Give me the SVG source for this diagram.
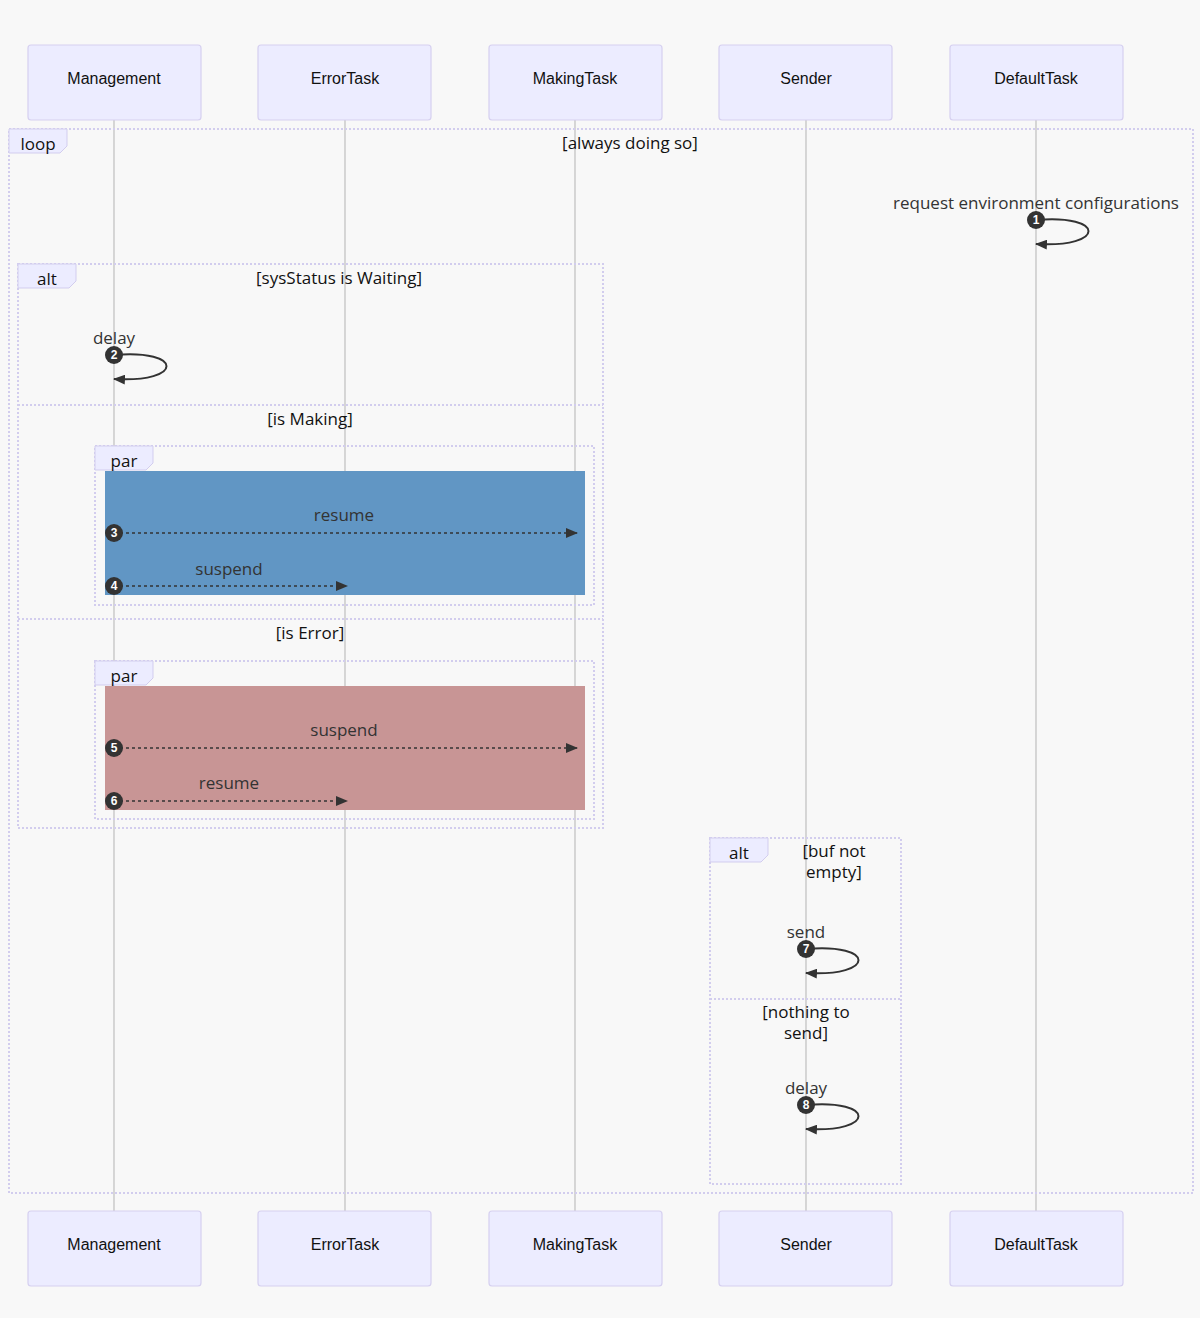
<svg xmlns="http://www.w3.org/2000/svg" width="1200" height="1318" viewBox="0 0 1200 1318">
<style>
.actor{fill:#ECECFF;stroke:#d6d0f0;stroke-width:1.2}
.atext{font-family:"Liberation Sans",Arial,sans-serif;font-size:16px;fill:#111;text-anchor:middle;dominant-baseline:central}
.life{stroke:#b3b3b3;stroke-width:1}
.frame{fill:none;stroke:#d2cdee;stroke-width:2;stroke-dasharray:2,2}
.lbox{fill:#ECECFF;stroke:#d2cdee;stroke-width:1}
.ltext{font-family:"Open Sans","DejaVu Sans",sans-serif;font-size:17px;fill:#111;text-anchor:middle;dominant-baseline:central}
.mtext{font-family:"Open Sans","DejaVu Sans",sans-serif;font-size:17px;fill:#333;text-anchor:middle;dominant-baseline:central}
.msg{fill:none;stroke:#333;stroke-width:1.6;stroke-dasharray:3,3}
.self{fill:none;stroke:#333;stroke-width:2}
.num{fill:#333}
.ntext{font-family:"Liberation Sans",Arial,sans-serif;font-size:12px;font-weight:bold;fill:#fff;text-anchor:middle;dominant-baseline:central}
</style>
<defs>
<marker id="arr" viewBox="0 0 12 10" refX="11" refY="5" markerWidth="12" markerHeight="10" markerUnits="userSpaceOnUse" orient="auto">
<path d="M0,0 L12,5 L0,10 z" fill="#333"/>
</marker>
</defs>
<rect x="0" y="0" width="1200" height="1318" fill="#f8f8f8"/>

<g id="lifelines">
<line class="life" x1="114" y1="120" x2="114" y2="1211"/>
<line class="life" x1="345" y1="120" x2="345" y2="1211"/>
<line class="life" x1="575" y1="120" x2="575" y2="1211"/>
<line class="life" x1="806" y1="120" x2="806" y2="1211"/>
<line class="life" x1="1036" y1="120" x2="1036" y2="1211"/>
</g>

<g id="actors-top">
<g id="actor-Management-top"><rect class="actor" x="28" y="45" width="173" height="75" rx="3"/><text class="atext" x="114" y="78">Management</text></g>
<g id="actor-ErrorTask-top"><rect class="actor" x="258" y="45" width="173" height="75" rx="3"/><text class="atext" x="345" y="78">ErrorTask</text></g>
<g id="actor-MakingTask-top"><rect class="actor" x="489" y="45" width="173" height="75" rx="3"/><text class="atext" x="575" y="78">MakingTask</text></g>
<g id="actor-Sender-top"><rect class="actor" x="719" y="45" width="173" height="75" rx="3"/><text class="atext" x="806" y="78">Sender</text></g>
<g id="actor-DefaultTask-top"><rect class="actor" x="950" y="45" width="173" height="75" rx="3"/><text class="atext" x="1036" y="78">DefaultTask</text></g>
</g>

<g id="actors-bottom">
<g id="actor-Management-bottom"><rect class="actor" x="28" y="1211" width="173" height="75" rx="3"/><text class="atext" x="114" y="1244">Management</text></g>
<g id="actor-ErrorTask-bottom"><rect class="actor" x="258" y="1211" width="173" height="75" rx="3"/><text class="atext" x="345" y="1244">ErrorTask</text></g>
<g id="actor-MakingTask-bottom"><rect class="actor" x="489" y="1211" width="173" height="75" rx="3"/><text class="atext" x="575" y="1244">MakingTask</text></g>
<g id="actor-Sender-bottom"><rect class="actor" x="719" y="1211" width="173" height="75" rx="3"/><text class="atext" x="806" y="1244">Sender</text></g>
<g id="actor-DefaultTask-bottom"><rect class="actor" x="950" y="1211" width="173" height="75" rx="3"/><text class="atext" x="1036" y="1244">DefaultTask</text></g>
</g>

<g id="rects">
<rect x="105" y="471" width="480" height="124" fill="#6196c4"/>
<rect x="105" y="686" width="480" height="124" fill="#c89595"/>
</g>

<g id="frames">
<g id="loop1">
<rect class="frame" x="9" y="129" width="1184" height="1064"/>
<polygon class="lbox" points="9,129 67,129 67,146 60,153 9,153"/>
<text class="ltext" x="38" y="143">loop</text>
<text class="ltext" x="630" y="142">[always doing so]</text>
</g>
<g id="alt1">
<rect class="frame" x="18" y="264" width="585" height="564"/>
<polygon class="lbox" points="18,264 76,264 76,281 69,288 18,288"/>
<text class="ltext" x="47" y="278">alt</text>
<text class="ltext" x="339" y="277">[sysStatus is Waiting]</text>
<line class="frame" x1="18" y1="405" x2="603" y2="405"/>
<text class="ltext" x="310" y="418">[is Making]</text>
<line class="frame" x1="18" y1="619" x2="603" y2="619"/>
<text class="ltext" x="310" y="632">[is Error]</text>
</g>
<g id="par1">
<rect class="frame" x="95" y="446" width="499" height="159"/>
<polygon class="lbox" points="95,446 153,446 153,463 146,470 95,470"/>
<text class="ltext" x="124" y="460">par</text>
</g>
<g id="par2">
<rect class="frame" x="95" y="661" width="499" height="158"/>
<polygon class="lbox" points="95,661 153,661 153,678 146,685 95,685"/>
<text class="ltext" x="124" y="675">par</text>
</g>
<g id="alt2">
<rect class="frame" x="710" y="838" width="191" height="346"/>
<polygon class="lbox" points="710,838 768,838 768,855 761,862 710,862"/>
<text class="ltext" x="739" y="852">alt</text>
<text class="ltext" x="834" y="850">[buf not</text>
<text class="ltext" x="834" y="871">empty]</text>
<line class="frame" x1="710" y1="999" x2="901" y2="999"/>
<text class="ltext" x="806" y="1011">[nothing to</text>
<text class="ltext" x="806" y="1032">send]</text>
</g>
</g>

<g id="connectors">
<text class="mtext" x="1036" y="202">request environment configurations</text>
<path class="self" d="M1036,220 C1106,214 1106,248 1036,244" marker-end="url(#arr)"/>
<text class="mtext" x="114" y="337">delay</text>
<path class="self" d="M114,355 C184,349 184,383 114,379" marker-end="url(#arr)"/>
<text class="mtext" x="344" y="514">resume</text>
<line class="msg" x1="114" y1="533" x2="577" y2="533" marker-end="url(#arr)"/>
<text class="mtext" x="229" y="568">suspend</text>
<line class="msg" x1="114" y1="586" x2="347" y2="586" marker-end="url(#arr)"/>
<text class="mtext" x="344" y="729">suspend</text>
<line class="msg" x1="114" y1="748" x2="577" y2="748" marker-end="url(#arr)"/>
<text class="mtext" x="229" y="782">resume</text>
<line class="msg" x1="114" y1="801" x2="347" y2="801" marker-end="url(#arr)"/>
<text class="mtext" x="806" y="931">send</text>
<path class="self" d="M806,949 C876,943 876,977 806,973" marker-end="url(#arr)"/>
<text class="mtext" x="806" y="1087">delay</text>
<path class="self" d="M806,1105 C876,1099 876,1133 806,1129" marker-end="url(#arr)"/>
</g>

<g id="numbers">
<circle class="num" cx="1036" cy="220" r="9"/><text class="ntext" x="1036" y="220">1</text>
<circle class="num" cx="114" cy="355" r="9"/><text class="ntext" x="114" y="355">2</text>
<circle class="num" cx="114" cy="533" r="9"/><text class="ntext" x="114" y="533">3</text>
<circle class="num" cx="114" cy="586" r="9"/><text class="ntext" x="114" y="586">4</text>
<circle class="num" cx="114" cy="748" r="9"/><text class="ntext" x="114" y="748">5</text>
<circle class="num" cx="114" cy="801" r="9"/><text class="ntext" x="114" y="801">6</text>
<circle class="num" cx="806" cy="949" r="9"/><text class="ntext" x="806" y="949">7</text>
<circle class="num" cx="806" cy="1105" r="9"/><text class="ntext" x="806" y="1105">8</text>
</g>
</svg>
